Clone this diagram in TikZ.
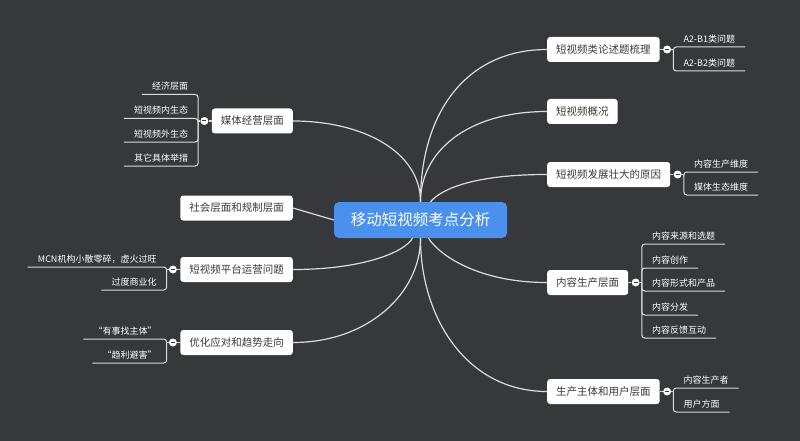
\documentclass[tikz,border=0pt]{standalone}
\usepackage{fontspec}
\setmainfont{Noto Sans CJK SC}
\usetikzlibrary{positioning}
\definecolor{mapbg}{HTML}{36383C}
\definecolor{rootblue}{HTML}{4A90EC}
\definecolor{linkgray}{HTML}{DCDCDC}
\definecolor{topictext}{HTML}{3A3A3A}
\tikzstyle{root} = [
    rectangle, rounded corners=5pt, fill=rootblue, text=white,
    font=\fontsize{15.5}{18}\selectfont,
    minimum width=173pt, minimum height=36pt
]
\tikzstyle{topic} = [
    rectangle, rounded corners=3pt, fill=white, text=topictext,
    font=\fontsize{10.5}{12}\selectfont,
    inner xsep=9pt, minimum height=25pt % White branch boxes
]
\tikzstyle{leaf} = [
    text=white, font=\fontsize{9}{11}\selectfont,
    inner xsep=10pt, inner ysep=3.5pt, text height=7pt, text depth=1pt
]
\tikzstyle{fold} = [
    circle, fill=white, minimum size=8pt, inner sep=0pt,
    path picture={\draw[mapbg, line width=1pt] ([xshift=-2pt]path picture bounding box.center) -- ([xshift=2pt]path picture bounding box.center);}
]
\tikzstyle{link} = [draw=linkgray, line width=1.2pt]

\begin{document}
\begin{tikzpicture}[x=1pt, y=-1pt]
        \fill[mapbg] (0,0) rectangle (800,441);

        % Centre
        \node[root] (root) at (420.5,220) {移动短视频考点分析};

        % Left topics
        \node[topic, anchor=east] (media) at (293,121) {媒体经营层面};
        \node[topic, anchor=east] (social) at (293,208) {社会层面和规制层面};
        \node[topic, anchor=east] (platform) at (293,269.5) {短视频平台运营问题};
        \node[topic, anchor=east] (optimize) at (293,342.5) {优化应对和趋势走向};

        % Right topics
        \node[topic, anchor=west] (sorting) at (547,49.5) {短视频类论述题梳理};
        \node[topic, anchor=west] (overview) at (547,111.5) {短视频概况};
        \node[topic, anchor=west] (growth) at (547,174.5) {短视频发展壮大的原因};
        \node[topic, anchor=west] (content) at (547,282.5) {内容生产层面};
        \node[topic, anchor=west] (subject) at (547,391.5) {生产主体和用户层面};

        % Fold buttons
        \node[fold] (mediaF) [left=3pt of media] {};
        \node[fold] (platformF) [left=3pt of platform] {};
        \node[fold] (optimizeF) [left=3pt of optimize] {};
        \node[fold] (sortingF) [right=3pt of sorting] {};
        \node[fold] (growthF) [right=3pt of growth] {};
        \node[fold] (contentF) [right=3pt of content] {};
        \node[fold] (subjectF) [right=3pt of subject] {};
        \coordinate (mediaJ) at ([xshift=-2pt]mediaF.west);
        \coordinate (platformJ) at ([xshift=-2pt]platformF.west);
        \coordinate (optimizeJ) at ([xshift=-2pt]optimizeF.west);
        \coordinate (sortingJ) at ([xshift=2pt]sortingF.east);
        \coordinate (growthJ) at ([xshift=2pt]growthF.east);
        \coordinate (contentJ) at ([xshift=2pt]contentF.east);
        \coordinate (subjectJ) at ([xshift=2pt]subjectF.east);

        % Leaves
        \node[leaf, anchor=south east] (media1) at (mediaJ |- 0,94.5) {经济层面};
        \node[leaf, anchor=south east] (media2) at (mediaJ |- 0,118.5) {短视频内生态};
        \node[leaf, anchor=south east] (media3) at (mediaJ |- 0,142) {短视频外生态};
        \node[leaf, anchor=south east] (media4) at (mediaJ |- 0,166) {其它具体举措};
        \node[leaf, anchor=south east] (platform1) at (platformJ |- 0,267) {MCN机构小散零碎，虚火过旺};
        \node[leaf, anchor=south east] (platform2) at (platformJ |- 0,290) {过度商业化};
        \node[leaf, anchor=south east] (optimize1) at (optimizeJ |- 0,339) {“有事找主体”};
        \node[leaf, anchor=south east] (optimize2) at (optimizeJ |- 0,363) {“趋利避害”};
        \node[leaf, anchor=south west] (sorting1) at (sortingJ |- 0,47) {A2-B1类问题};
        \node[leaf, anchor=south west] (sorting2) at (sortingJ |- 0,71) {A2-B2类问题};
        \node[leaf, anchor=south west] (growth1) at (growthJ |- 0,172) {内容生产维度};
        \node[leaf, anchor=south west] (growth2) at (growthJ |- 0,195) {媒体生态维度};
        \node[leaf, anchor=south west] (content1) at (contentJ |- 0,244) {内容来源和选题};
        \node[leaf, anchor=south west] (content2) at (contentJ |- 0,268) {内容创作};
        \node[leaf, anchor=south west] (content3) at (contentJ |- 0,291) {内容形式和产品};
        \node[leaf, anchor=south west] (content4) at (contentJ |- 0,315) {内容分发};
        \node[leaf, anchor=south west] (content5) at (contentJ |- 0,338) {内容反馈互动};
        \node[leaf, anchor=south west] (subject1) at (subjectJ |- 0,388) {内容生产者};
        \node[leaf, anchor=south west] (subject2) at (subjectJ |- 0,412) {用户方面};

        % Centre to topics
        \draw[link] (root.north) .. controls +(0,-50) and +(70,0) .. (media.east);
        \draw[link] (root.west) -- (social.east);
        \draw[link] ([xshift=-8pt]root.south) .. controls +(-8,14) and +(70,0) .. (platform.east);
        \draw[link] (root.south) .. controls +(0,55) and +(75,0) .. (optimize.east);
        \draw[link] (root.north) .. controls +(0,-90) and +(-80,0) .. (sorting.west);
        \draw[link] (root.north) .. controls +(0,-50) and +(-80,0) .. (overview.west);
        \draw[link] ([xshift=10pt]root.north) .. controls +(12,-14) and +(-70,0) .. (growth.west);
        \draw[link] ([xshift=8pt]root.south) .. controls +(10,16) and +(-70,0) .. (content.west);
        \draw[link] (root.south) .. controls +(0,80) and +(-80,0) .. (subject.west);

        % Topics to folds
        \foreach \t in {media, platform, optimize} {
            \draw[link] (\t.west) -- (\t F.east);
            \draw[link] (\t F.west) -- (\t J);
        }
        \foreach \t in {sorting, growth, content, subject} {
            \draw[link] (\t.east) -- (\t F.west);
            \draw[link] (\t F.east) -- (\t J);
        }

        % Brackets and underlines
        \foreach \j/\l in {mediaJ/media1, mediaJ/media2, mediaJ/media3, mediaJ/media4,
                platformJ/platform1, platformJ/platform2, optimizeJ/optimize1, optimizeJ/optimize2}
            \draw[link, line width=1pt, rounded corners=3pt] (\j) -- (\l.south east) -- (\l.south west);
        \foreach \j/\l in {sortingJ/sorting1, sortingJ/sorting2, growthJ/growth1, growthJ/growth2,
                contentJ/content1, contentJ/content2, contentJ/content3, contentJ/content4, contentJ/content5,
                subjectJ/subject1, subjectJ/subject2}
            \draw[link, line width=1pt, rounded corners=3pt] (\j) -- (\l.south west) -- (\l.south east);

    \end{tikzpicture}
\end{document}
